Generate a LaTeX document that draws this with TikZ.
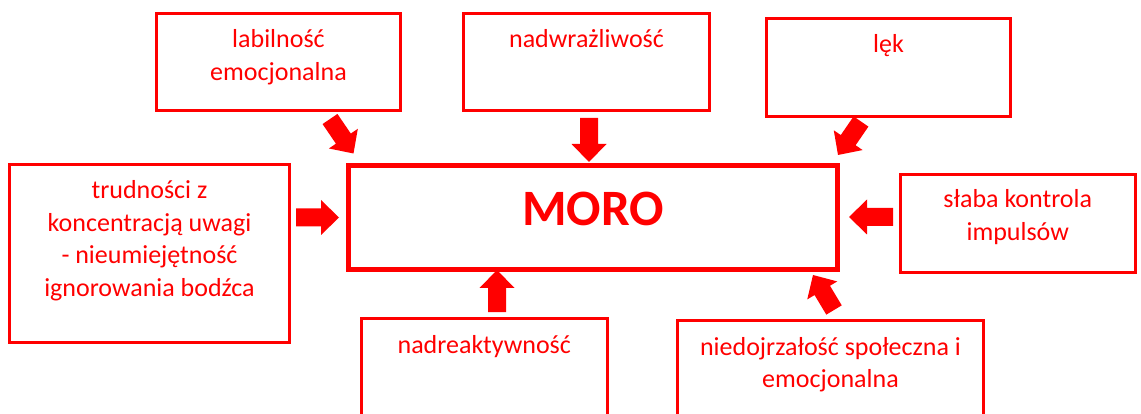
\documentclass[tikz,border=0pt]{standalone}
\usepackage{fontspec}
\setmainfont{Carlito}
\usetikzlibrary{calc}
\definecolor{mred}{RGB}{255,0,0}
\newcommand\blockarr[2]{%
  \path ($(#2)!18pt!(#1)$) coordinate (bh);
  \fill[mred] ($(#1)!9pt!90:(#2)$) -- ($(bh)!9pt!90:(#2)$) -- ($(bh)!17.5pt!90:(#2)$) -- (#2)
    -- ($(bh)!17.5pt!-90:(#2)$) -- ($(bh)!9pt!-90:(#2)$) -- ($(#1)!9pt!-90:(#2)$) -- cycle;
}
\begin{document}
\begin{tikzpicture}[x=1pt,y=-1pt,
  box/.style={draw=mred, line width=3pt, rectangle, inner sep=0pt, outer sep=0pt},
  lbl/.style={text=mred, font=\fontsize{26}{32.5}\selectfont, align=center, inner sep=0pt, outer sep=0pt, anchor=north}]
\useasboundingbox (0,0) rectangle (1141,414);
\clip (0,0) rectangle (1141,414);
\fill[white] (0,0) rectangle (1141,414);
% boxes
\node[box, minimum width=244pt, minimum height=97pt] (b1) at (278.5,62) {};
\node[box, minimum width=246pt, minimum height=97pt] (b2) at (586.5,62) {};
\node[box, minimum width=244pt, minimum height=98pt] (b3) at (888.5,67.5) {};
\node[box, minimum width=280pt, minimum height=178pt] (b4) at (149.5,253.5) {};
\node[box, line width=5pt, minimum width=489pt, minimum height=104pt] (moro) at (593,217.5) {};
\node[box, minimum width=234.5pt, minimum height=98.5pt] (b5) at (1017.75,223.75) {};
\node[box, minimum width=245.5pt, minimum height=100pt] (b6) at (484.25,368.5) {};
\node[box, minimum width=306pt, minimum height=100pt] (b7) at (830.5,370.5) {};
% texts
\node[lbl] (t1) at ([yshift=-11.75pt]b1.north) {\strut labilność\\\strut emocjonalna};
\node[lbl] (t2) at ([yshift=-11.75pt]b2.north) {\strut nadwrażliwość};
\node[lbl] (t3) at ([yshift=-11.75pt]b3.north) {\strut lęk};
\node[lbl] (t4) at ([yshift=-11.75pt]b4.north) {\strut trudności z\\\strut koncentracją uwagi\\\strut - nieumiejętność\\\strut ignorowania bodźca};
\node[lbl] (t5) at ([yshift=-10.75pt]b5.north) {\strut słaba kontrola\\\strut impulsów};
\node[lbl] (t6) at ([yshift=-11.75pt]b6.north) {\strut nadreaktywność};
\node[lbl] (t7) at ([yshift=-11.75pt]b7.north) {\strut niedojrzałość społeczna i\\\strut emocjonalna};
\node[text=mred, font=\fontsize{51}{60}\selectfont\bfseries, anchor=base, inner sep=0pt] (mt) at (593,226) {MORO};
% arrow end points
\coordinate (a1s) at (330,119);   \coordinate (a1e) at (353.5,153.5);
\coordinate (a2s) at (589,118);   \coordinate (a2e) at (589,162);
\coordinate (a3s) at (861,121.5); \coordinate (a3e) at (838,155);
\coordinate (a4s) at (296,217.5); \coordinate (a4e) at (339,217.5);
\coordinate (a5s) at (893,217);   \coordinate (a5e) at (849,217);
\coordinate (a6s) at (497,312);   \coordinate (a6e) at (497,270);
\coordinate (a7s) at (834,310);   \coordinate (a7e) at (813,275);
\blockarr{a1s}{a1e}
\blockarr{a2s}{a2e}
\blockarr{a3s}{a3e}
\blockarr{a4s}{a4e}
\blockarr{a5s}{a5e}
\blockarr{a6s}{a6e}
\blockarr{a7s}{a7e}
\end{tikzpicture}
\end{document}
